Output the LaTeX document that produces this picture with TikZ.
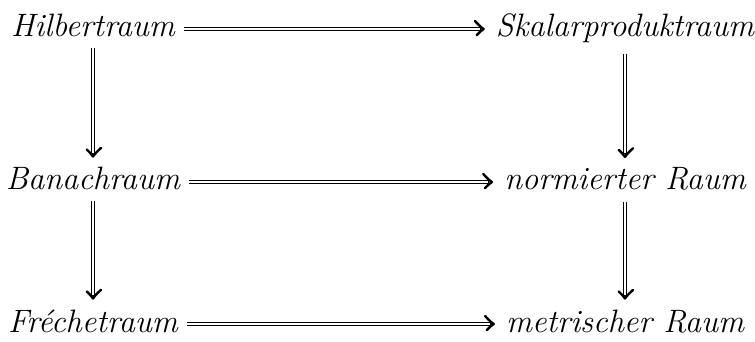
\documentclass[tikz,border=0pt]{standalone}
\usetikzlibrary{decorations.markings}
\begin{document}
\begin{tikzpicture}[x=0.5pt,y=-0.5pt,
  space/.style={font=\fontsize{16.2}{19}\selectfont\itshape, inner xsep=4.5pt, inner ysep=5.3pt, anchor=base},
  % double shaft (black line with a white core) and a single-stroke chevron head
  implies/.style={draw=black, line width=2.3pt, shorten >=1.2pt,
    postaction={draw=white, line width=1.2pt, shorten >=1.7pt, shorten <=-0.1pt},
    postaction={decorate, decoration={markings, mark=at position 1 with {
      \draw[black, line width=1.2pt, line cap=round, line join=round]
        (-4.3pt,4pt) .. controls (-2.4pt,1.9pt) and (-1.1pt,0.7pt) .. (0,0)
        .. controls (-1.1pt,-0.7pt) and (-2.4pt,-1.9pt) .. (-4.3pt,-4pt);}}}}]
\useasboundingbox (0,0) rectangle (755,342);
% the six spaces
\node[space] (H) at (93,37) {Hilbertraum};
\node[space] (S) at (625,37) {Skalarproduktraum};
\node[space] (B) at (93,190) {Banachraum};
\node[space] (N) at (625,190) {normierter Raum};
\node[space] (F) at (93,332) {Fréchetraum};
\node[space] (M) at (625,332) {metrischer Raum};
% horizontal implications, on the math axis
\draw[implies] ([yshift=4pt]H.base east) -- ([xshift=-1.5pt,yshift=4pt]S.base west);
\draw[implies] ([yshift=4pt]B.base east) -- ([xshift=-1.5pt,yshift=4pt]N.base west);
\draw[implies] ([yshift=4pt]F.base east) -- ([xshift=-1.5pt,yshift=4pt]M.base west);
% vertical implications
\draw[implies] (H.south) -- (B.north);
\draw[implies] (B.south) -- (F.north);
\draw[implies] (S.south) -- (N.north);
\draw[implies] (N.south) -- (M.north);
\end{tikzpicture}
\end{document}
